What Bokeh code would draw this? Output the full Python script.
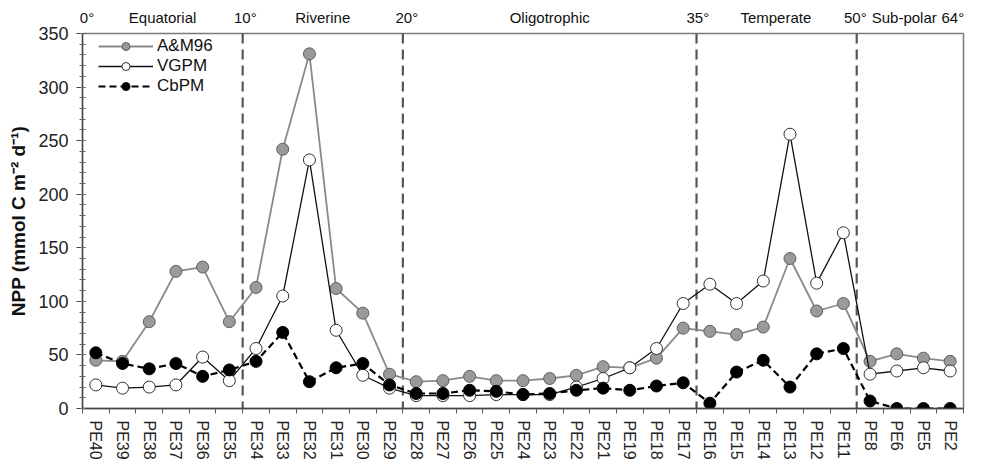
from bokeh.plotting import figure
from bokeh.models import (FactorRange, Range1d, LinearAxis, FixedTicker,
                          SingleIntervalTicker, CustomJSTickFormatter, Span,
                          Legend, LegendItem)
from bokeh.embed import file_html
from bokeh.resources import INLINE

# Stations along the transect, south to north
stations = ["PE40", "PE39", "PE38", "PE37", "PE36", "PE35",
            "PE34", "PE33", "PE32", "PE31", "PE30", "PE29",
            "PE28", "PE27", "PE26", "PE25", "PE24", "PE23", "PE22", "PE21",
            "PE19", "PE18", "PE17",
            "PE16", "PE15", "PE14", "PE13", "PE12", "PE11",
            "PE8", "PE6", "PE5", "PE2"]

# Net primary production (mmol C m-2 d-1) by model
am96 = [45, 44, 81, 128, 132, 81,
        113, 242, 331, 112, 89, 32,
        25, 26, 30, 26, 26, 28, 31, 39, 38, 47, 75,
        72, 69, 76, 140, 91, 98,
        44, 51, 47, 44]
vgpm = [22, 19, 20, 22, 48, 26,
        56, 105, 232, 73, 31, 19,
        12, 12, 12, 13, 13, 13, 20, 28, 38, 56, 98,
        116, 98, 119, 256, 117, 164,
        32, 35, 38, 35]
cbpm = [52, 42, 37, 42, 30, 36,
        44, 71, 25, 38, 42, 22,
        14, 14, 17, 16, 13, 14, 17, 19, 17, 21, 24,
        5, 34, 45, 20, 51, 56,
        7, 0, 0, 0]

# First station of each province after the equatorial one
province_starts = ["PE34", "PE28", "PE16", "PE8"]

# Latitude and province annotations along the top
zone_text = ["0°", "Equatorial", "10°", "Riverine", "20°", "Oligotrophic",
             "35°", "Temperate", "50°", "Sub-polar", "64°"]

FONT = "Liberation Sans"

p = figure(width=982, height=464,
           x_range=FactorRange(factors=stations, range_padding=0, factor_padding=0),
           y_range=Range1d(0, 350),
           x_axis_type=None, y_axis_type=None,
           output_backend="svg", toolbar_location=None,
           min_border_left=82, min_border_right=19,
           min_border_top=33, min_border_bottom=56)
p.background_fill_color = "white"
p.border_fill_color = "white"
p.outline_line_color = "#7a7a7a"
p.outline_line_width = 1.5
p.xgrid.visible = False
p.ygrid.visible = False

n = len(stations)

# y axis
yaxis = LinearAxis(ticker=SingleIntervalTicker(interval=50, num_minor_ticks=5),
                   axis_label="NPP (mmol C m\u207b\u00b2 d\u207b\u00b9)")
yaxis.axis_label_text_font = FONT
yaxis.axis_label_text_font_style = "bold"
yaxis.axis_label_text_font_size = "19px"
yaxis.axis_label_text_color = "#111111"
yaxis.axis_label_standoff = 6
yaxis.major_label_text_font = FONT
yaxis.major_label_text_font_size = "18px"
yaxis.major_label_text_color = "#222222"
yaxis.major_label_standoff = 8
yaxis.axis_line_color = "#444444"
yaxis.axis_line_width = 1.3
yaxis.major_tick_line_color = "#444444"
yaxis.minor_tick_line_color = "#666666"
yaxis.major_tick_in = 3
yaxis.major_tick_out = 6
yaxis.minor_tick_in = 3
yaxis.minor_tick_out = 3
p.add_layout(yaxis, "left")

# x axis: station names at category centres, tick marks at boundaries
xaxis = LinearAxis(
    ticker=FixedTicker(ticks=[i + 0.5 for i in range(n)],
                       minor_ticks=list(range(n + 1))),
    formatter=CustomJSTickFormatter(args=dict(names=stations),
                                    code="return names[Math.floor(tick)] || '';"))
xaxis.major_label_orientation = "vertical"
xaxis.major_label_text_font = FONT
xaxis.major_label_text_font_size = "16px"
xaxis.major_label_text_color = "#222222"
xaxis.major_label_standoff = 7
xaxis.major_tick_in = 0
xaxis.major_tick_out = 0
xaxis.minor_tick_in = 0
xaxis.minor_tick_out = 5
xaxis.minor_tick_line_color = "#555555"
xaxis.axis_line_color = "#444444"
xaxis.axis_line_width = 1.3
p.add_layout(xaxis, "below")

# province / latitude labels along the top edge
zone_x = [0.17, 3.0, 6.1, 9.0, 12.15, 17.5, 23.05, 25.97, 28.95, 30.78, 32.6]
topaxis = LinearAxis(
    ticker=FixedTicker(ticks=zone_x, minor_ticks=[]),
    formatter=CustomJSTickFormatter(
        args=dict(pos=zone_x, names=zone_text),
        code="const i = pos.findIndex(v => Math.abs(v - tick) < 1e-6);"
             " return i >= 0 ? names[i] : '';"))
topaxis.axis_line_color = None
topaxis.major_tick_in = 0
topaxis.major_tick_out = 0
topaxis.minor_tick_in = 0
topaxis.minor_tick_out = 0
topaxis.major_label_text_font = FONT
topaxis.major_label_text_font_size = "15px"
topaxis.major_label_text_color = "#111111"
topaxis.major_label_standoff = 8
p.add_layout(topaxis, "above")

# province boundaries
for s in province_starts:
    p.add_layout(Span(location=stations.index(s), dimension="height",
                      line_color="#555555", line_width=2.2,
                      line_dash="10 6", level="underlay"))

# series
am_line = p.line(stations, am96, line_color="#8a8a8a", line_width=1.8)
am_pts = p.scatter(stations, am96, size=12, fill_color="#9a9a9a",
                   line_color="#5e5e5e", line_width=1)
vg_line = p.line(stations, vgpm, line_color="#111111", line_width=1.3)
vg_pts = p.scatter(stations, vgpm, size=12, fill_color="white",
                   line_color="#333333", line_width=1)
cb_line = p.line(stations, cbpm, line_color="black", line_width=2.2,
                 line_dash="7 4")
cb_pts = p.scatter(stations, cbpm, size=12, fill_color="black",
                   line_color="black", line_width=1)

legend = Legend(items=[
    LegendItem(label="A&M96", renderers=[am_line, am_pts]),
    LegendItem(label="VGPM", renderers=[vg_line, vg_pts]),
    LegendItem(label="CbPM", renderers=[cb_line, cb_pts]),
], location=(16, 312))
legend.label_text_font = FONT
legend.label_text_font_size = "17px"
legend.label_text_color = "#111111"
legend.glyph_width = 55
legend.glyph_height = 20
legend.label_height = 20
legend.label_standoff = 4
legend.spacing = 0
legend.padding = 0
legend.margin = 0
legend.border_line_color = None
legend.background_fill_alpha = 0
p.add_layout(legend)

open("out.html", "w").write(file_html(p, INLINE))
